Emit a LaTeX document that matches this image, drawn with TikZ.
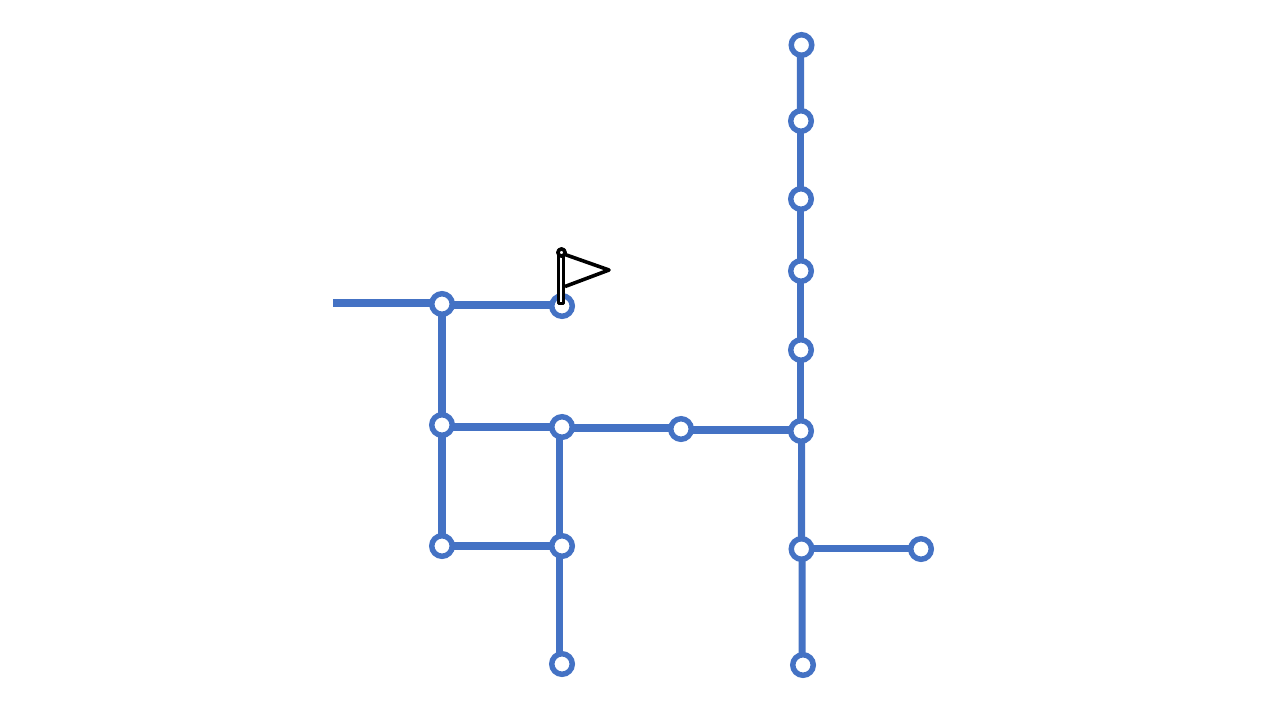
\documentclass[tikz,border=0pt]{standalone}
\usepackage{tikz}
\tikzset{
	stop/.style={circle,draw=routeblue,fill=white,line width=4.1pt,minimum size=15.4pt,inner sep=0pt,outer sep=0pt},
	route/.style={routeblue,line width=5.3pt},
	flagline/.style={black,line width=2.7pt,line join=round}
}
\definecolor{routeblue}{RGB}{68,114,196}
\begin{document}
\begin{tikzpicture}[x=0.75pt,y=-0.75pt]
	\useasboundingbox (0,0) rectangle (1280,720);

	% Free end of the line on the left
	\coordinate (start) at (333,303);

	% Nodes of the left part
	\node[stop] (a) at (442,304) {};
	\node[stop] (b) at (562,306) {};
	\node[stop] (c) at (442,425) {};
	\node[stop] (d) at (562,427) {};
	\node[stop] (e) at (681,429) {};
	\node[stop] (g) at (442,546) {};
	\node[stop] (h) at (562,546) {};
	\node[stop] (i) at (562,664) {};

	% Nodes of the long vertical line
	\node[stop] (j) at (801.5,45) {};
	\node[stop] (k) at (801,121) {};
	\node[stop] (l) at (801,199) {};
	\node[stop] (m) at (801,271) {};
	\node[stop] (n) at (801,350) {};
	\node[stop] (f) at (801,431) {};
	\node[stop] (o) at (801.5,549) {};
	\node[stop] (p) at (921,549) {};
	\node[stop] (q) at (803,665) {};

	% Connectors
	\draw[route] (start) -- (a.west |- start);
	\draw[route] ([yshift=-0.75]a.east) -- ([yshift=0.75]b.west);
	\draw[route] (a) -- (c);
	\draw[route] (c) -- (g);
	\draw[route] ([yshift=-1.5]c.east) -- (d.west);
	\draw[route] ([yshift=-0.75]d.east) -- ([yshift=0.75]e.west);
	\draw[route] ([yshift=-0.75]e.east) -- ([yshift=0.75]f.west);
	\draw[route] (g) -- (h);
	\draw[route] ([xshift=-1.9]d.south) -- ([xshift=-1.9]h.north);
	\draw[route] ([xshift=-1.9]h.south) -- ([xshift=-1.9]i.north);
	\draw[route] ([xshift=-0.75]j.south) -- ([xshift=-0.4]k.north);
	\foreach \from/\to in {k/l,l/m,m/n,n/f} {
			\draw[route] ([xshift=-0.4]\from.south) -- ([xshift=-0.4]\to.north);
		}
	\draw[route] ([xshift=0.4]f.south) -- (o.north);
	\draw[route] ([xshift=0.4]o.south) -- ([xshift=-0.7]q.north);
	\draw[route] ([yshift=0.4]o.east) -- ([yshift=0.4]p.west);

	% Flag on node b
	\draw[flagline,line width=2.4pt,fill=white] (558.6,254) rectangle (563.5,303.5);
	\draw[flagline,fill=white] (561.5,252.5) circle (3.6);
	\draw[flagline] (565,254.5) -- (609,270) -- (565,286.5);

\end{tikzpicture}
\end{document}
